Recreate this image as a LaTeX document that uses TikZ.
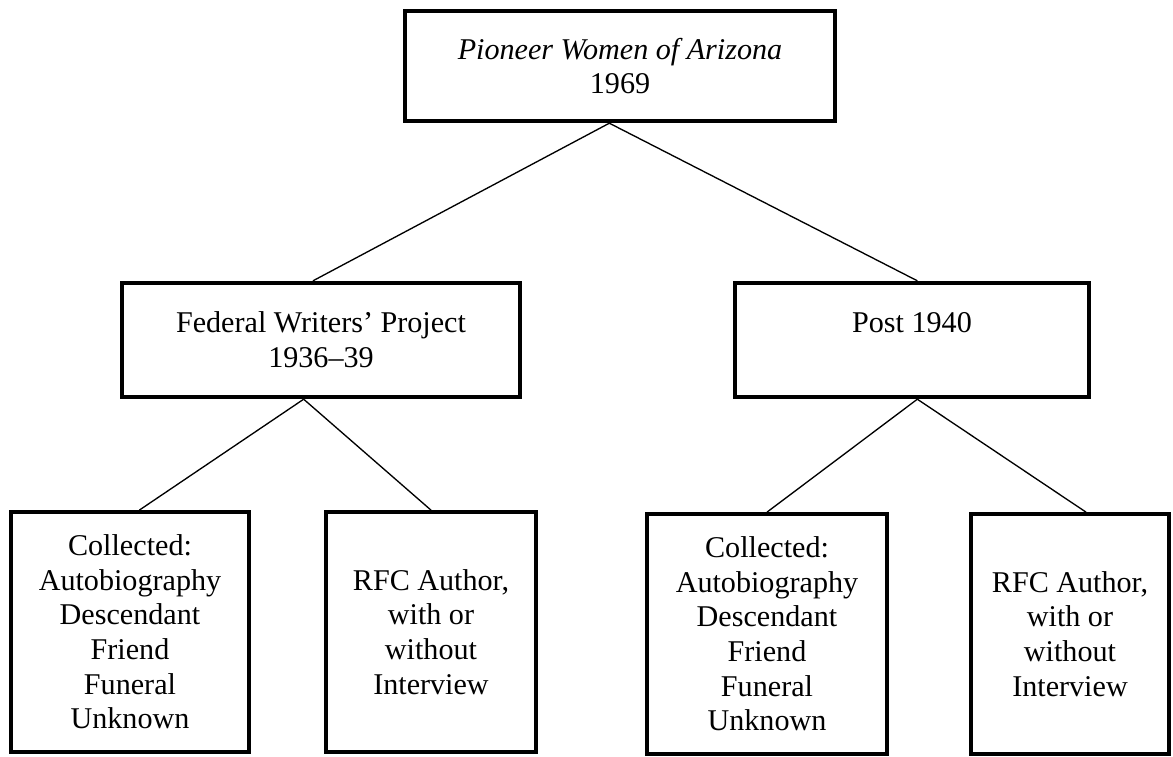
\documentclass[tikz,border=0pt]{standalone}
\usepackage{fontspec}
\setmainfont{Liberation Serif}
\begin{document}
\begin{tikzpicture}[
        x=0.75pt, y=-0.75pt,  % one unit per pixel, y downwards
        box/.style={draw, rectangle, line width=2.8pt, inner sep=0pt, align=center,
            font=\fontsize{22.6}{26}\selectfont},
        leaf/.style={box, minimum height=180pt},
        link/.style={line width=1pt}
    ]
    \useasboundingbox (0,0) rectangle (1173,756);

    % Define the boxes
    \node[box, minimum width=323pt, minimum height=83pt] (book) at (620,66) {\textit{Pioneer Women of Arizona}\\1969};
    \node[box, minimum width=299pt, minimum height=86pt] (fwp) at (321,340) {Federal Writers’ Project\\1936–39};
    \node[box, minimum width=266pt, minimum height=86pt] (post) at (912,340) {Post 1940\\~};
    \node[leaf, minimum width=179pt] (fwpcoll) at (130,632) {Collected:\\Autobiography\\Descendant\\Friend\\Funeral\\Unknown};
    \node[leaf, minimum width=157pt] (fwprfc) at (431,632) {RFC Author,\\with or\\without\\Interview};
    \node[leaf, minimum width=180pt] (postcoll) at (767,634) {Collected:\\Autobiography\\Descendant\\Friend\\Funeral\\Unknown};
    \node[leaf, minimum width=148pt] (postrfc) at (1070,634) {RFC Author,\\with or\\without\\Interview};

    % Draw the lines between the boxes
    \draw[link] ([xshift=-8pt]book.south) -- ([xshift=-6pt]fwp.north);
    \draw[link] ([xshift=-8pt]book.south) -- ([xshift=4pt]post.north);
    \draw[link] ([xshift=-13pt]fwp.south) -- ([xshift=7pt]fwpcoll.north);
    \draw[link] ([xshift=-13pt]fwp.south) -- (fwprfc.north);
    \draw[link] ([xshift=4pt]post.south) -- (postcoll.north);
    \draw[link] ([xshift=4pt]post.south) -- ([xshift=12pt]postrfc.north);

\end{tikzpicture}
\end{document}
